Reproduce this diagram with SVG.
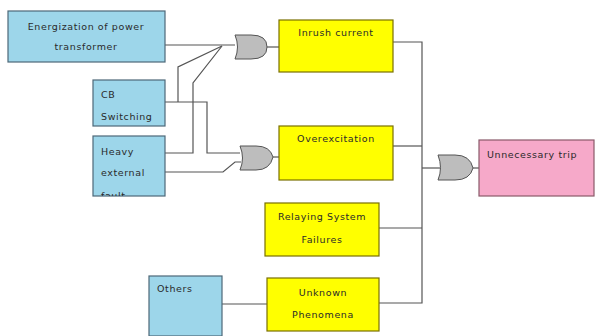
<svg xmlns="http://www.w3.org/2000/svg" width="595" height="336" viewBox="0 0 595 336">
<style>
.blue{fill:#9dd6ea;stroke:#4d6878;stroke-width:1.2}
.yel{fill:#ffff00;stroke:#7a7000;stroke-width:1.2}
.pink{fill:#f6a9c9;stroke:#8a5a6a;stroke-width:1.2}
.gate{fill:#bdbdbd;stroke:#555;stroke-width:1}
.w{fill:none;stroke:#555;stroke-width:1.2}
text{font-family:"DejaVu Sans",Verdana,sans-serif;font-size:9.5px;fill:#2a2a2a;letter-spacing:0.6px}
.c{text-anchor:middle}
</style>
<defs>
<clipPath id="clipHeavy"><rect x="93" y="136" width="72" height="60"/></clipPath>
</defs>
<rect width="595" height="336" fill="#fff"/>
<g id="connectors">
<path class="w" d="M165,45 H235"/>
<path class="w" d="M165,102 H207 V153 H240"/>
<path class="w" d="M178,102 V67 L222,46"/>
<path class="w" d="M165,153 H193 V83 L222,46"/>
<path class="w" d="M165,172 H223 L235,162 H241"/>
<path class="w" d="M267,47 H279"/>
<path class="w" d="M273,157 H279"/>
<path class="w" d="M393,42 H422 V303 H379"/>
<path class="w" d="M393,146 H422"/>
<path class="w" d="M379,228 H422"/>
<path class="w" d="M422,168 H440"/>
<path class="w" d="M473,168 H479"/>
<path class="w" d="M222,304 H267"/>
</g>
<g id="energization"><rect class="blue" x="8" y="11" width="157" height="51"/><text class="c" x="86" y="30">Energization of power</text><text class="c" x="86" y="50">transformer</text></g>
<g id="cb"><rect class="blue" x="93" y="80" width="72" height="46"/><text x="101" y="98">CB</text><text x="101" y="120">Switching</text></g>
<g id="heavy"><rect class="blue" x="93" y="136" width="72" height="60"/><text x="101" y="155">Heavy</text><text x="101" y="176">external</text><text x="101" y="199" clip-path="url(#clipHeavy)">fault</text></g>
<g id="others"><rect class="blue" x="149" y="276" width="73" height="60"/><text x="157" y="292">Others</text></g>
<g id="gate1"><path class="gate" d="M235,35 H251 Q267,35 267,47 Q267,59 251,59 H235 Q240,47 235,35 Z"/></g>
<g id="gate2"><path class="gate" d="M240,146 H256 Q270,146 273,157 Q270,170 256,170 H240 Q245,158 240,146 Z"/></g>
<g id="gate3"><path class="gate" d="M438,155 H455 Q470,155 473,168 Q470,180 455,180 H438 Q443,168 438,155 Z"/></g>
<g id="inrush"><rect class="yel" x="279" y="20" width="114" height="52"/><text class="c" x="336" y="36">Inrush current</text></g>
<g id="overexcitation"><rect class="yel" x="279" y="126" width="114" height="54"/><text class="c" x="336" y="142">Overexcitation</text></g>
<g id="relaying"><rect class="yel" x="265" y="203" width="114" height="53"/><text class="c" x="322" y="220">Relaying System</text><text class="c" x="322" y="243">Failures</text></g>
<g id="unknown"><rect class="yel" x="267" y="278" width="112" height="53"/><text class="c" x="323" y="296">Unknown</text><text class="c" x="323" y="318">Phenomena</text></g>
<g id="trip"><rect class="pink" x="479" y="140" width="115" height="56"/><text x="487" y="158">Unnecessary trip</text></g>
</svg>
